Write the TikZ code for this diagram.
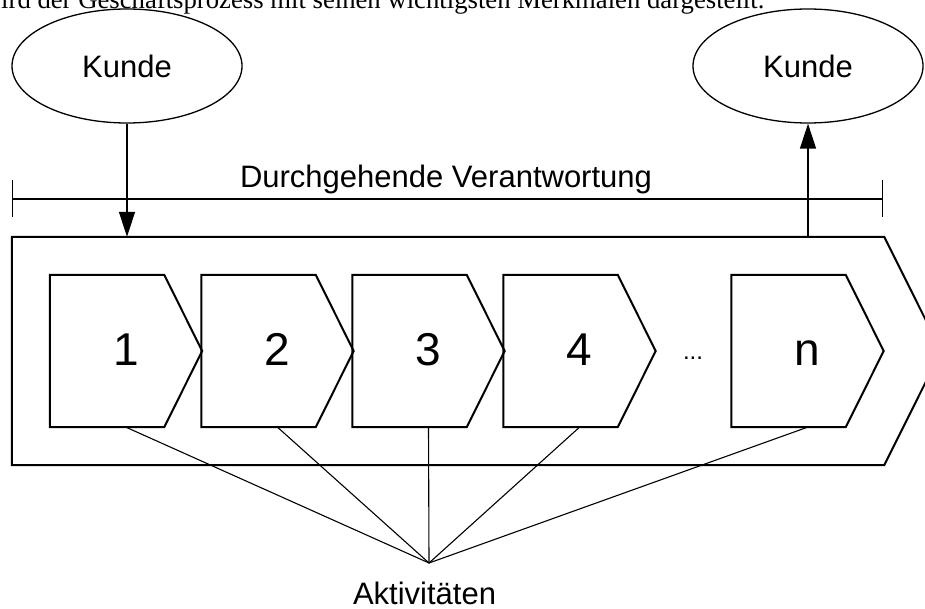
\documentclass[tikz,border=0pt]{standalone}
\usepackage{fontspec}
\setmainfont{Liberation Sans}
\newfontfamily\serifcap{Liberation Serif}
\usetikzlibrary{shapes.geometric,arrows.meta}

\tikzset{
  x=1pt, y=-1pt,
  lbl/.style={font=\fontsize{31}{36}\selectfont, inner sep=0pt},
  customer/.style={ellipse, draw, line width=1.3pt, minimum width=230pt, minimum height=114pt,
    inner sep=0pt, font=\fontsize{31}{36}\selectfont},
  actbox/.style={minimum width=152pt, minimum height=152pt, inner sep=0pt,
    text height=33pt, text depth=5pt, font=\fontsize{46}{50}\selectfont},
  heavy/.style={line width=2pt, line join=miter},
  thin/.style={line width=1.1pt},
  flow/.style={line width=1.3pt, -{Triangle[width=16pt,length=25pt]}},
}

\begin{document}
\begin{tikzpicture}
  \useasboundingbox (0,0) rectangle (925,609);
  \clip (0,0) rectangle (925,609);

  % running caption line above the figure
  \node[anchor=base west, inner sep=0pt, font=\serifcap\fontsize{26.7}{30}\selectfont]
    (caption) at (1,9) {ird der Geschäftsprozess mit seinen wichtigsten Merkmalen dargestellt.};

  % customers
  \node[customer] (kin)  at (127,66) {Kunde};
  \node[customer] (kout) at (808,66) {Kunde};

  % overall process chevron
  \node[minimum width=929pt, minimum height=228pt, inner sep=0pt] (proc) at (476.5,351) {};
  \draw[heavy] (proc.north west) -- ([xshift=-57pt]proc.north east) -- (proc.east)
    -- ([xshift=-57pt]proc.south east) -- (proc.south west) -- cycle;

  % responsibility bracket
  \coordinate (rl) at (12,199);
  \coordinate (rr) at (883,199);
  \draw[thin, {Bar[width=37pt]}-{Bar[width=37pt]}] (rl) -- (rr);
  \node[lbl, anchor=base] (resp) at (446,188) {Durchgehende Verantwortung};

  % customer flows
  \draw[flow] (kin) -- (kin |- proc.north);
  \draw[flow] (kout |- proc.north) -- (kout);

  % activities
  \node[actbox] (b1) at (126,351) {1};
  \node[actbox] (b2) at (277.5,351) {2};
  \node[actbox] (b3) at (428.5,351) {3};
  \node[actbox] (b4) at (579.5,351) {4};
  \node[actbox] (bn) at (807.5,351) {n};
  \foreach \b in {b1,b2,b3,b4,bn}{
    \draw[heavy] (\b.north west) -- ([xshift=-38pt]\b.north east) -- (\b.east)
      -- ([xshift=-38pt]\b.south east) -- (\b.south west) -- cycle;
  }
  \node[inner sep=0pt, font=\fontsize{24}{28}\selectfont] (dots) at (693,358) {...};

  % activity label
  \coordinate (act) at (429,563);
  \foreach \b in {b1,b2,b3,b4,bn}{
    \draw[thin] (\b.south) -- (act);
  }
  \node[lbl, anchor=base] (acts) at (424.5,604) {Aktivitäten};
\end{tikzpicture}
\end{document}
